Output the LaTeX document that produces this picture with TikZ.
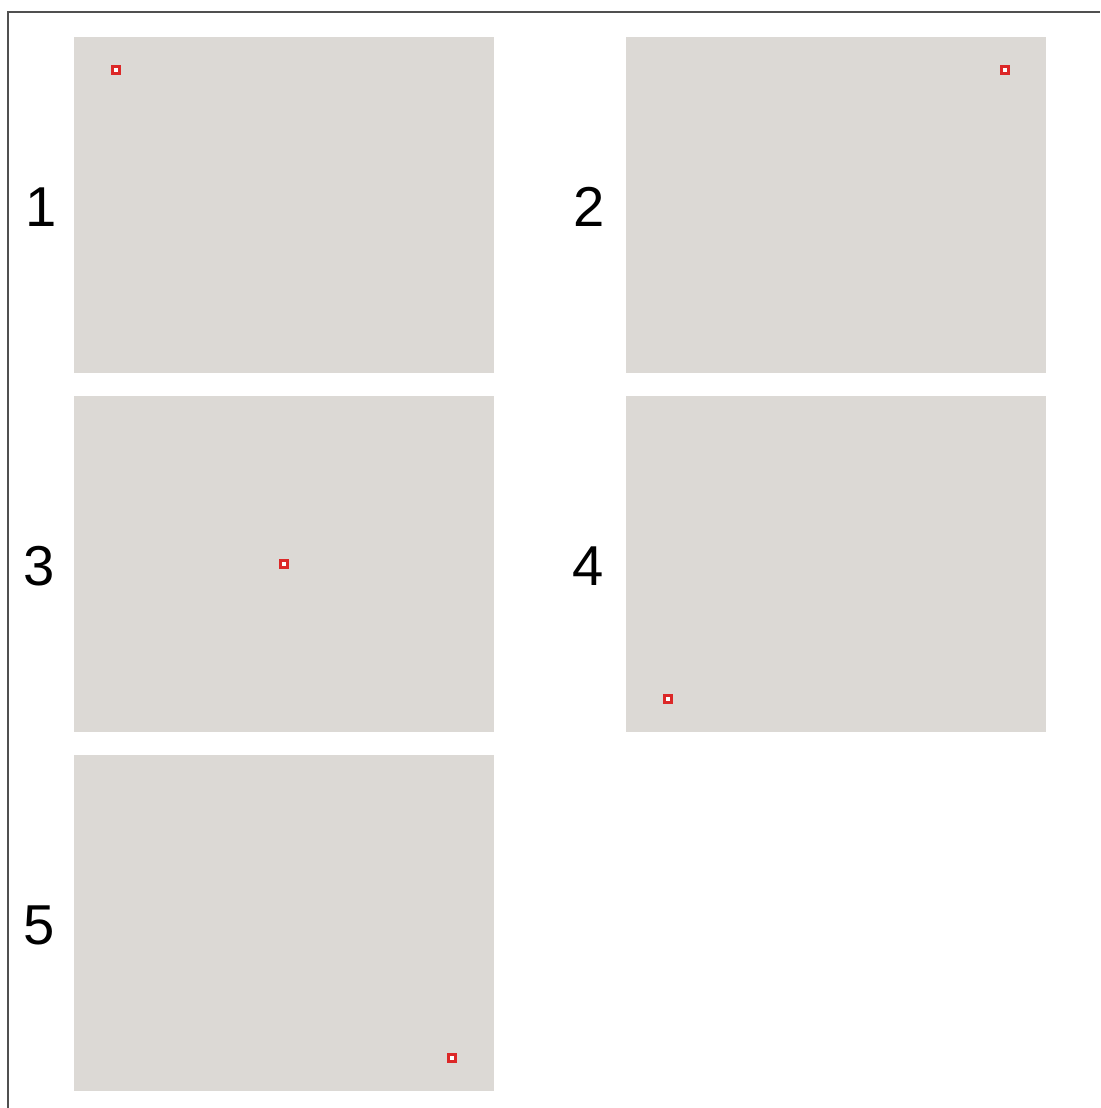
\documentclass[tikz,border=0pt]{standalone}
\usepackage{fontspec}
\setmainfont{Liberation Sans}
\usepackage{xcolor}
\usepackage{tikz}
\usetikzlibrary{positioning}

\definecolor{panelgray}{RGB}{220,217,213}
\definecolor{framegray}{RGB}{80,80,80}
\definecolor{spotred}{RGB}{220,40,40}

\begin{document}
\begin{tikzpicture}[x=0.02cm, y=-0.02cm,
  panel/.style={fill=panelgray, minimum width=8.4cm, minimum height=6.72cm, inner sep=0pt, anchor=north west},
  spot/.style={draw=spotred, fill=white, line width=0.07cm, minimum size=0.14cm, inner sep=0pt},
  num/.style={font=\fontsize{32}{38}\selectfont, inner sep=0pt}]
  \useasboundingbox (0,0) rectangle (1100,1108);
  % frame (top and left only)
  \draw[framegray, line width=1.6pt] (8,1108) -- (8,12) -- (1100,12);
  % panels
  \node[panel] (p1) at (74,37) {};
  \node[panel] (p2) at (626,37) {};
  \node[panel] (p3) at (74,396) {};
  \node[panel] (p4) at (626,396) {};
  \node[panel] (p5) at (74,755) {};
  % numbers
  \node[num] (n1) at (41,207) {1};
  \node[num] (n2) at (589,207) {2};
  \node[num] (n3) at (39,566) {3};
  \node[num] (n4) at (588,566) {4};
  \node[num] (n5) at (39,925) {5};
  % marked positions
  \node[spot] (s1) at (116,70) {};
  \node[spot] (s2) at (1005,70) {};
  \node[spot] (s3) at (284,564) {};
  \node[spot] (s4) at (668,699) {};
  \node[spot] (s5) at (452,1058) {};
\end{tikzpicture}
\end{document}
